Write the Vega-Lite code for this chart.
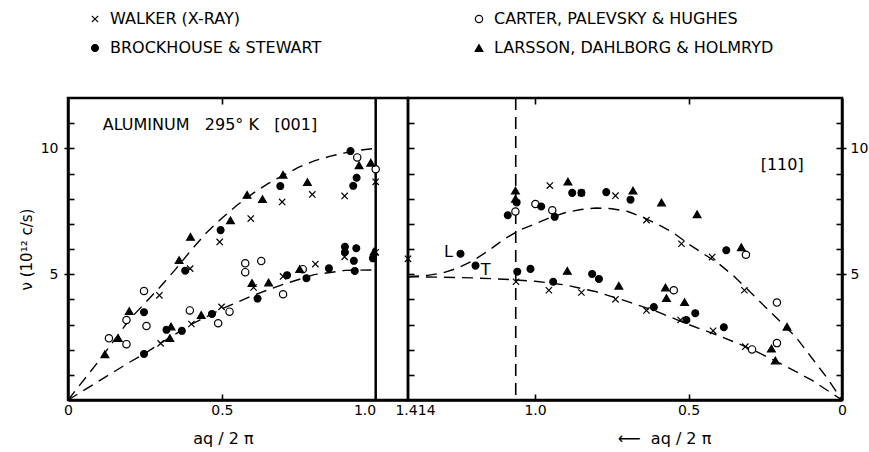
{
  "$schema": "https://vega.github.io/schema/vega-lite/v6.json",
  "background": "white",
  "padding": {"left": 17, "top": 11, "right": 0, "bottom": 0},
  "bounds": "flush",
  "spacing": 0,
  "config": {
    "view": {"stroke": "black", "strokeWidth": 2.5},
    "font": "DejaVu Sans",
    "axis": {"domainColor": "black", "domainWidth": 2.5, "tickColor": "black", "tickWidth": 1.6, "labelColor": "black", "titleColor": "black", "labelFontSize": 14, "titleFontSize": 15, "titleFontWeight": "normal", "grid": false, "labelFont": "DejaVu Sans", "titleFont": "DejaVu Sans", "labelFlush": false, "labelOverlap": false, "zindex": 1}
  },
  "datasets": {
    "pts001": [
      {"s": "W", "x": 0.297, "y": 4.16}, {"s": "W", "x": 0.397, "y": 5.22}, {"s": "W", "x": 0.493, "y": 6.28}, {"s": "W", "x": 0.594, "y": 7.21}, {"s": "W", "x": 0.696, "y": 7.87}, {"s": "W", "x": 0.794, "y": 8.17}, {"s": "W", "x": 0.899, "y": 8.11}, {"s": "W", "x": 1.0, "y": 8.67},
      {"s": "W", "x": 0.301, "y": 2.25}, {"s": "W", "x": 0.401, "y": 3.02}, {"s": "W", "x": 0.499, "y": 3.7}, {"s": "W", "x": 0.603, "y": 4.47}, {"s": "W", "x": 0.699, "y": 4.91}, {"s": "W", "x": 0.804, "y": 5.4}, {"s": "W", "x": 0.899, "y": 5.69}, {"s": "W", "x": 1.0, "y": 5.87},
      {"s": "C", "x": 0.133, "y": 2.45}, {"s": "C", "x": 0.19, "y": 3.18}, {"s": "C", "x": 0.19, "y": 2.22}, {"s": "C", "x": 0.255, "y": 2.94}, {"s": "C", "x": 0.247, "y": 4.33}, {"s": "C", "x": 0.396, "y": 3.56}, {"s": "C", "x": 0.488, "y": 3.05}, {"s": "C", "x": 0.525, "y": 3.51}, {"s": "C", "x": 0.576, "y": 5.43}, {"s": "C", "x": 0.576, "y": 5.08}, {"s": "C", "x": 0.628, "y": 5.52}, {"s": "C", "x": 0.699, "y": 4.2}, {"s": "C", "x": 0.763, "y": 5.2}, {"s": "C", "x": 0.94, "y": 9.64}, {"s": "C", "x": 1.0, "y": 9.17},
      {"s": "B", "x": 0.247, "y": 3.49}, {"s": "B", "x": 0.247, "y": 1.83}, {"s": "B", "x": 0.381, "y": 5.14}, {"s": "B", "x": 0.496, "y": 6.75}, {"s": "B", "x": 0.69, "y": 8.5}, {"s": "B", "x": 0.918, "y": 9.89}, {"s": "B", "x": 0.938, "y": 8.83}, {"s": "B", "x": 0.927, "y": 8.51}, {"s": "B", "x": 0.32, "y": 2.79}, {"s": "B", "x": 0.37, "y": 2.75}, {"s": "B", "x": 0.468, "y": 3.42}, {"s": "B", "x": 0.616, "y": 4.03}, {"s": "B", "x": 0.712, "y": 4.96}, {"s": "B", "x": 0.775, "y": 4.84}, {"s": "B", "x": 0.848, "y": 5.23}, {"s": "B", "x": 0.9, "y": 6.09}, {"s": "B", "x": 0.9, "y": 5.87}, {"s": "B", "x": 0.937, "y": 6.03}, {"s": "B", "x": 0.929, "y": 5.53}, {"s": "B", "x": 0.932, "y": 5.13}, {"s": "B", "x": 0.991, "y": 5.63},
      {"s": "L", "x": 0.12, "y": 1.82}, {"s": "L", "x": 0.163, "y": 2.46}, {"s": "L", "x": 0.199, "y": 3.53}, {"s": "L", "x": 0.361, "y": 5.56}, {"s": "L", "x": 0.398, "y": 6.48}, {"s": "L", "x": 0.528, "y": 7.14}, {"s": "L", "x": 0.582, "y": 8.15}, {"s": "L", "x": 0.632, "y": 7.98}, {"s": "L", "x": 0.699, "y": 8.95}, {"s": "L", "x": 0.778, "y": 8.66}, {"s": "L", "x": 0.946, "y": 9.33}, {"s": "L", "x": 0.984, "y": 9.43},
      {"s": "L", "x": 0.331, "y": 2.46}, {"s": "L", "x": 0.335, "y": 2.92}, {"s": "L", "x": 0.433, "y": 3.38}, {"s": "L", "x": 0.598, "y": 4.65}, {"s": "L", "x": 0.652, "y": 4.67}, {"s": "L", "x": 0.753, "y": 5.2}, {"s": "L", "x": 0.995, "y": 5.9}
    ],
    "pts110": [
      {"s": "W", "x": 1.414, "y": 5.61}, {"s": "W", "x": 0.952, "y": 8.52}, {"s": "W", "x": 0.849, "y": 8.23}, {"s": "W", "x": 0.738, "y": 8.12}, {"s": "W", "x": 0.637, "y": 7.15}, {"s": "W", "x": 0.523, "y": 6.21}, {"s": "W", "x": 0.423, "y": 5.68}, {"s": "W", "x": 0.318, "y": 4.36},
      {"s": "W", "x": 1.062, "y": 4.7}, {"s": "W", "x": 0.955, "y": 4.36}, {"s": "W", "x": 0.849, "y": 4.27}, {"s": "W", "x": 0.738, "y": 4.0}, {"s": "W", "x": 0.637, "y": 3.56}, {"s": "W", "x": 0.526, "y": 3.18}, {"s": "W", "x": 0.42, "y": 2.75}, {"s": "W", "x": 0.315, "y": 2.12},
      {"s": "C", "x": 1.064, "y": 7.49}, {"s": "C", "x": 0.999, "y": 7.79}, {"s": "C", "x": 0.944, "y": 7.54}, {"s": "C", "x": 0.313, "y": 5.77}, {"s": "C", "x": 0.212, "y": 3.87}, {"s": "C", "x": 0.548, "y": 4.36}, {"s": "C", "x": 0.293, "y": 2.01}, {"s": "C", "x": 0.212, "y": 2.26},
      {"s": "B", "x": 1.243, "y": 5.81}, {"s": "B", "x": 1.194, "y": 5.34}, {"s": "B", "x": 1.089, "y": 7.34}, {"s": "B", "x": 1.06, "y": 7.85}, {"s": "B", "x": 0.98, "y": 7.69}, {"s": "B", "x": 0.936, "y": 7.28}, {"s": "B", "x": 0.879, "y": 8.23}, {"s": "B", "x": 0.849, "y": 8.23}, {"s": "B", "x": 0.768, "y": 8.26}, {"s": "B", "x": 0.689, "y": 7.96}, {"s": "B", "x": 0.377, "y": 5.95},
      {"s": "B", "x": 1.058, "y": 5.1}, {"s": "B", "x": 1.015, "y": 5.21}, {"s": "B", "x": 0.941, "y": 4.7}, {"s": "B", "x": 0.814, "y": 5.01}, {"s": "B", "x": 0.792, "y": 4.81}, {"s": "B", "x": 0.613, "y": 3.69}, {"s": "B", "x": 0.478, "y": 3.45}, {"s": "B", "x": 0.507, "y": 3.18}, {"s": "B", "x": 0.385, "y": 2.89},
      {"s": "L", "x": 1.064, "y": 8.32}, {"s": "L", "x": 1.064, "y": 7.99}, {"s": "L", "x": 0.893, "y": 8.68}, {"s": "L", "x": 0.681, "y": 8.32}, {"s": "L", "x": 0.588, "y": 7.85}, {"s": "L", "x": 0.472, "y": 7.38}, {"s": "L", "x": 0.328, "y": 6.07}, {"s": "L", "x": 0.179, "y": 2.91}, {"s": "L", "x": 0.23, "y": 2.04}, {"s": "L", "x": 0.217, "y": 1.57},
      {"s": "L", "x": 0.895, "y": 5.13}, {"s": "L", "x": 0.727, "y": 4.54}, {"s": "L", "x": 0.575, "y": 4.47}, {"s": "L", "x": 0.572, "y": 4.05}, {"s": "L", "x": 0.513, "y": 3.89}
    ],
    "c001": [
      {"b": "L", "x": 0, "y": 0}, {"b": "L", "x": 0.1, "y": 1.55}, {"b": "L", "x": 0.2, "y": 3.2}, {"b": "L", "x": 0.3, "y": 4.5}, {"b": "L", "x": 0.35, "y": 5.2}, {"b": "L", "x": 0.4, "y": 5.95}, {"b": "L", "x": 0.45, "y": 6.65}, {"b": "L", "x": 0.5, "y": 7.22}, {"b": "L", "x": 0.55, "y": 7.75}, {"b": "L", "x": 0.6, "y": 8.2}, {"b": "L", "x": 0.65, "y": 8.6}, {"b": "L", "x": 0.7, "y": 8.93}, {"b": "L", "x": 0.75, "y": 9.25}, {"b": "L", "x": 0.8, "y": 9.5}, {"b": "L", "x": 0.85, "y": 9.68}, {"b": "L", "x": 0.9, "y": 9.82}, {"b": "L", "x": 0.95, "y": 9.93}, {"b": "L", "x": 1.0, "y": 10.0},
      {"b": "T", "x": 0, "y": 0}, {"b": "T", "x": 0.1, "y": 0.75}, {"b": "T", "x": 0.2, "y": 1.5}, {"b": "T", "x": 0.25, "y": 1.85}, {"b": "T", "x": 0.3, "y": 2.25}, {"b": "T", "x": 0.4, "y": 3.0}, {"b": "T", "x": 0.5, "y": 3.62}, {"b": "T", "x": 0.6, "y": 4.15}, {"b": "T", "x": 0.7, "y": 4.6}, {"b": "T", "x": 0.8, "y": 4.98}, {"b": "T", "x": 0.9, "y": 5.15}, {"b": "T", "x": 1.0, "y": 5.17}
    ],
    "c110": [
      {"b": "L", "x": 1.414, "y": 4.9}, {"b": "L", "x": 1.35, "y": 4.95}, {"b": "L", "x": 1.3, "y": 5.05}, {"b": "L", "x": 1.25, "y": 5.25}, {"b": "L", "x": 1.2, "y": 5.55}, {"b": "L", "x": 1.15, "y": 5.95}, {"b": "L", "x": 1.1, "y": 6.4}, {"b": "L", "x": 1.05, "y": 6.75}, {"b": "L", "x": 1.0, "y": 7.0}, {"b": "L", "x": 0.95, "y": 7.25}, {"b": "L", "x": 0.9, "y": 7.45}, {"b": "L", "x": 0.85, "y": 7.57}, {"b": "L", "x": 0.8, "y": 7.63}, {"b": "L", "x": 0.75, "y": 7.6}, {"b": "L", "x": 0.7, "y": 7.5}, {"b": "L", "x": 0.65, "y": 7.27}, {"b": "L", "x": 0.6, "y": 6.98}, {"b": "L", "x": 0.55, "y": 6.65}, {"b": "L", "x": 0.5, "y": 6.2}, {"b": "L", "x": 0.45, "y": 5.8}, {"b": "L", "x": 0.4, "y": 5.4}, {"b": "L", "x": 0.35, "y": 4.9}, {"b": "L", "x": 0.3, "y": 4.3}, {"b": "L", "x": 0.25, "y": 3.7}, {"b": "L", "x": 0.2, "y": 3.1}, {"b": "L", "x": 0.15, "y": 2.5}, {"b": "L", "x": 0.1, "y": 1.7}, {"b": "L", "x": 0.05, "y": 0.9}, {"b": "L", "x": 0, "y": 0},
      {"b": "T", "x": 1.414, "y": 4.9}, {"b": "T", "x": 1.3, "y": 4.88}, {"b": "T", "x": 1.2, "y": 4.85}, {"b": "T", "x": 1.1, "y": 4.8}, {"b": "T", "x": 1.0, "y": 4.72}, {"b": "T", "x": 0.9, "y": 4.57}, {"b": "T", "x": 0.8, "y": 4.3}, {"b": "T", "x": 0.7, "y": 3.92}, {"b": "T", "x": 0.6, "y": 3.5}, {"b": "T", "x": 0.5, "y": 3.0}, {"b": "T", "x": 0.4, "y": 2.55}, {"b": "T", "x": 0.3, "y": 2.05}, {"b": "T", "x": 0.2, "y": 1.45}, {"b": "T", "x": 0.1, "y": 0.8}, {"b": "T", "x": 0, "y": 0}
    ],
    "t001": [{"x": 0.113, "y": 10.93, "t": "ALUMINUM\u00a0\u00a0\u00a0295°\u00a0K\u00a0\u00a0\u00a0[001]"}],
    "t110": [{"x": 0.195, "y": 9.33, "t": "[110]"}, {"x": 1.282, "y": 5.9, "t": "L"}, {"x": 1.161, "y": 5.17, "t": "T"}],
    "r001": [{"x": 1.0}],
    "r110": [{"x": 1.063}]
  },
  "hconcat": [
    {
      "width": 340,
      "height": 302,
      "resolve": {"axis": {"x": "independent", "y": "independent"}},
      "layer": [
        {
          "data": {"name": "c001"},
          "mark": {"type": "line", "color": "black", "strokeWidth": 1.4, "strokeDash": [11, 7]},
          "encoding": {
            "x": {"field": "x", "type": "quantitative", "scale": {"domain": [0, 1.105], "nice": false},
              "axis": {"orient": "bottom", "values": [0, 0.5, 1], "labelExpr": "datum.value == 0 ? '0' : datum.value == 1 ? '1.0' : '0.5'", "labelAlign": {"condition": {"test": "datum.value == 1", "value": "right"}, "value": "center"}, "ticks": false, "labelPadding": 3, "title": "aq / 2 π", "titleX": 155, "titleFontSize": 16, "titlePadding": 13}},
            "y": {"field": "y", "type": "quantitative", "scale": {"domain": [0, 12], "nice": false},
              "axis": {"orient": "left", "values": [5, 10], "ticks": false, "labelPadding": 10, "title": "ν (10¹² c/s)", "titlePadding": 6}},
            "detail": {"field": "b"}
          }
        },
        {
          "data": {"name": "r001"},
          "mark": {"type": "rule", "color": "black", "strokeWidth": 2.5},
          "encoding": {
            "x": {"field": "x", "type": "quantitative", "scale": {"domain": [0, 1.105], "nice": false},
              "axis": {"orient": "bottom", "values": [0.5], "labels": false, "domain": false, "ticks": true, "tickSize": 6, "offset": -6, "title": null}}
          }
        },
        {
          "data": {"name": "pts001"},
          "mark": {"type": "point", "filled": true, "strokeWidth": 1.2, "opacity": 1},
          "encoding": {
            "x": {"field": "x", "type": "quantitative", "scale": {"domain": [0, 1.105], "nice": false}, "axis": null},
            "y": {"field": "y", "type": "quantitative", "scale": {"domain": [0, 12], "nice": false},
              "axis": {"orient": "left", "values": [1, 2, 3, 4, 5, 6, 7, 8, 9, 10, 11], "labels": false, "domain": false, "ticks": true, "tickSize": {"condition": {"test": "datum.value == 5 || datum.value == 10", "value": 10}, "value": 6}, "offset": -6, "title": null}},
            "shape": {"field": "s", "type": "nominal", "scale": {"domain": ["W", "B", "C", "L"], "range": ["M-1,-1L1,1M-1,1L1,-1", "circle", "circle", "triangle-up"]},
              "legend": {"orient": "none", "legendX": 19, "legendY": -87, "columns": 2, "columnPadding": 149, "rowPadding": 13, "title": null, "labelFontSize": 16, "labelFont": "DejaVu Sans", "labelColor": "black", "labelOffset": 7, "labelLimit": 500, "symbolStrokeWidth": 1.2, "symbolOpacity": 1, "labelExpr": "datum.label == 'W' ? 'WALKER (X-RAY)' : datum.label == 'C' ? 'CARTER, PALEVSKY & HUGHES' : datum.label == 'B' ? 'BROCKHOUSE & STEWART' : 'LARSSON, DAHLBORG & HOLMRYD'"}},
            "fill": {"field": "s", "type": "nominal", "scale": {"domain": ["W", "B", "C", "L"], "range": ["black", "black", "white", "black"]},
              "legend": {"orient": "none", "legendX": 19, "legendY": -87, "columns": 2, "columnPadding": 149, "rowPadding": 13, "title": null, "labelFontSize": 16, "labelFont": "DejaVu Sans", "labelColor": "black", "labelOffset": 7, "labelLimit": 500, "symbolStrokeWidth": 1.2, "symbolOpacity": 1, "labelExpr": "datum.label == 'W' ? 'WALKER (X-RAY)' : datum.label == 'C' ? 'CARTER, PALEVSKY & HUGHES' : datum.label == 'B' ? 'BROCKHOUSE & STEWART' : 'LARSSON, DAHLBORG & HOLMRYD'"}},
            "stroke": {"field": "s", "type": "nominal", "scale": {"domain": ["W", "B", "C", "L"], "range": ["black", "black", "black", "black"]},
              "legend": {"orient": "none", "legendX": 19, "legendY": -87, "columns": 2, "columnPadding": 149, "rowPadding": 13, "title": null, "labelFontSize": 16, "labelFont": "DejaVu Sans", "labelColor": "black", "labelOffset": 7, "labelLimit": 500, "symbolStrokeWidth": 1.2, "symbolOpacity": 1, "labelExpr": "datum.label == 'W' ? 'WALKER (X-RAY)' : datum.label == 'C' ? 'CARTER, PALEVSKY & HUGHES' : datum.label == 'B' ? 'BROCKHOUSE & STEWART' : 'LARSSON, DAHLBORG & HOLMRYD'"}},
            "size": {"field": "s", "type": "nominal", "scale": {"domain": ["W", "B", "C", "L"], "range": [40, 60, 50, 60]},
              "legend": {"orient": "none", "legendX": 19, "legendY": -87, "columns": 2, "columnPadding": 149, "rowPadding": 13, "title": null, "labelFontSize": 16, "labelFont": "DejaVu Sans", "labelColor": "black", "labelOffset": 7, "labelLimit": 500, "symbolStrokeWidth": 1.2, "symbolOpacity": 1, "labelExpr": "datum.label == 'W' ? 'WALKER (X-RAY)' : datum.label == 'C' ? 'CARTER, PALEVSKY & HUGHES' : datum.label == 'B' ? 'BROCKHOUSE & STEWART' : 'LARSSON, DAHLBORG & HOLMRYD'"}}
          }
        },
        {
          "data": {"name": "t001"},
          "mark": {"type": "text", "align": "left", "baseline": "middle", "fontSize": 16, "font": "DejaVu Sans", "color": "black"},
          "encoding": {
            "x": {"field": "x", "type": "quantitative", "scale": {"domain": [0, 1.105], "nice": false},
              "axis": {"orient": "top", "values": [0.5], "labels": false, "domain": false, "ticks": true, "tickSize": 6, "offset": -6, "title": null}},
            "y": {"field": "y", "type": "quantitative", "scale": {"domain": [0, 12], "nice": false}, "axis": null},
            "text": {"field": "t"}
          }
        }
      ]
    },
    {
      "width": 434,
      "height": 302,
      "resolve": {"axis": {"x": "independent", "y": "independent"}},
      "layer": [
        {
          "data": {"name": "c110"},
          "mark": {"type": "line", "color": "black", "strokeWidth": 1.4, "strokeDash": [11, 7]},
          "encoding": {
            "x": {"field": "x", "type": "quantitative", "scale": {"domain": [0, 1.414], "reverse": true, "nice": false},
              "axis": {"orient": "bottom", "values": [0, 0.5, 1, 1.414], "labelExpr": "datum.value == 0 ? '0' : datum.value == 1 ? '1.0' : datum.value == 0.5 ? '0.5' : '1.414'", "labelOffset": {"condition": {"test": "datum.value > 1.4", "value": 7}, "value": 0}, "ticks": false, "labelPadding": 3, "title": "⟵\u00a0 aq / 2 π", "titleX": 256, "titleFontSize": 16, "titlePadding": 13}},
            "y": {"field": "y", "type": "quantitative", "scale": {"domain": [0, 12], "nice": false},
              "axis": {"orient": "right", "values": [5, 10], "ticks": false, "labelPadding": 8, "title": null}},
            "detail": {"field": "b"}
          }
        },
        {
          "data": {"name": "r110"},
          "mark": {"type": "rule", "color": "black", "strokeWidth": 1.6, "strokeDash": [12, 7]},
          "encoding": {
            "x": {"field": "x", "type": "quantitative", "scale": {"domain": [0, 1.414], "reverse": true, "nice": false},
              "axis": {"orient": "bottom", "values": [0.5, 1], "labels": false, "domain": false, "ticks": true, "tickSize": 6, "offset": -6, "title": null}}
          }
        },
        {
          "data": {"name": "pts110"},
          "mark": {"type": "point", "filled": true, "strokeWidth": 1.2, "opacity": 1},
          "encoding": {
            "x": {"field": "x", "type": "quantitative", "scale": {"domain": [0, 1.414], "reverse": true, "nice": false}, "axis": null},
            "y": {"field": "y", "type": "quantitative", "scale": {"domain": [0, 12], "nice": false},
              "axis": {"orient": "right", "values": [1, 2, 3, 4, 5, 6, 7, 8, 9, 10, 11], "labels": false, "domain": false, "ticks": true, "tickSize": {"condition": {"test": "datum.value == 5 || datum.value == 10", "value": 10}, "value": 6}, "offset": -6, "title": null}},
            "shape": {"field": "s", "type": "nominal", "scale": {"domain": ["W", "B", "C", "L"], "range": ["M-1,-1L1,1M-1,1L1,-1", "circle", "circle", "triangle-up"]},
              "legend": {"orient": "none", "legendX": 19, "legendY": -87, "columns": 2, "columnPadding": 149, "rowPadding": 13, "title": null, "labelFontSize": 16, "labelFont": "DejaVu Sans", "labelColor": "black", "labelOffset": 7, "labelLimit": 500, "symbolStrokeWidth": 1.2, "symbolOpacity": 1, "labelExpr": "datum.label == 'W' ? 'WALKER (X-RAY)' : datum.label == 'C' ? 'CARTER, PALEVSKY & HUGHES' : datum.label == 'B' ? 'BROCKHOUSE & STEWART' : 'LARSSON, DAHLBORG & HOLMRYD'"}},
            "fill": {"field": "s", "type": "nominal", "scale": {"domain": ["W", "B", "C", "L"], "range": ["black", "black", "white", "black"]},
              "legend": {"orient": "none", "legendX": 19, "legendY": -87, "columns": 2, "columnPadding": 149, "rowPadding": 13, "title": null, "labelFontSize": 16, "labelFont": "DejaVu Sans", "labelColor": "black", "labelOffset": 7, "labelLimit": 500, "symbolStrokeWidth": 1.2, "symbolOpacity": 1, "labelExpr": "datum.label == 'W' ? 'WALKER (X-RAY)' : datum.label == 'C' ? 'CARTER, PALEVSKY & HUGHES' : datum.label == 'B' ? 'BROCKHOUSE & STEWART' : 'LARSSON, DAHLBORG & HOLMRYD'"}},
            "stroke": {"field": "s", "type": "nominal", "scale": {"domain": ["W", "B", "C", "L"], "range": ["black", "black", "black", "black"]},
              "legend": {"orient": "none", "legendX": 19, "legendY": -87, "columns": 2, "columnPadding": 149, "rowPadding": 13, "title": null, "labelFontSize": 16, "labelFont": "DejaVu Sans", "labelColor": "black", "labelOffset": 7, "labelLimit": 500, "symbolStrokeWidth": 1.2, "symbolOpacity": 1, "labelExpr": "datum.label == 'W' ? 'WALKER (X-RAY)' : datum.label == 'C' ? 'CARTER, PALEVSKY & HUGHES' : datum.label == 'B' ? 'BROCKHOUSE & STEWART' : 'LARSSON, DAHLBORG & HOLMRYD'"}},
            "size": {"field": "s", "type": "nominal", "scale": {"domain": ["W", "B", "C", "L"], "range": [40, 60, 50, 60]},
              "legend": {"orient": "none", "legendX": 19, "legendY": -87, "columns": 2, "columnPadding": 149, "rowPadding": 13, "title": null, "labelFontSize": 16, "labelFont": "DejaVu Sans", "labelColor": "black", "labelOffset": 7, "labelLimit": 500, "symbolStrokeWidth": 1.2, "symbolOpacity": 1, "labelExpr": "datum.label == 'W' ? 'WALKER (X-RAY)' : datum.label == 'C' ? 'CARTER, PALEVSKY & HUGHES' : datum.label == 'B' ? 'BROCKHOUSE & STEWART' : 'LARSSON, DAHLBORG & HOLMRYD'"}}
          }
        },
        {
          "data": {"name": "t110"},
          "mark": {"type": "text", "align": "center", "baseline": "middle", "fontSize": 16, "font": "DejaVu Sans", "color": "black"},
          "encoding": {
            "x": {"field": "x", "type": "quantitative", "scale": {"domain": [0, 1.414], "reverse": true, "nice": false},
              "axis": {"orient": "top", "values": [0.5, 1], "labels": false, "domain": false, "ticks": true, "tickSize": 6, "offset": -6, "title": null}},
            "y": {"field": "y", "type": "quantitative", "scale": {"domain": [0, 12], "nice": false},
              "axis": {"orient": "left", "values": [1, 2, 3, 4, 5, 6, 7, 8, 9, 10, 11], "labels": false, "domain": false, "ticks": true, "tickSize": 6, "offset": -6, "title": null}},
            "text": {"field": "t"}
          }
        }
      ]
    }
  ]
}
